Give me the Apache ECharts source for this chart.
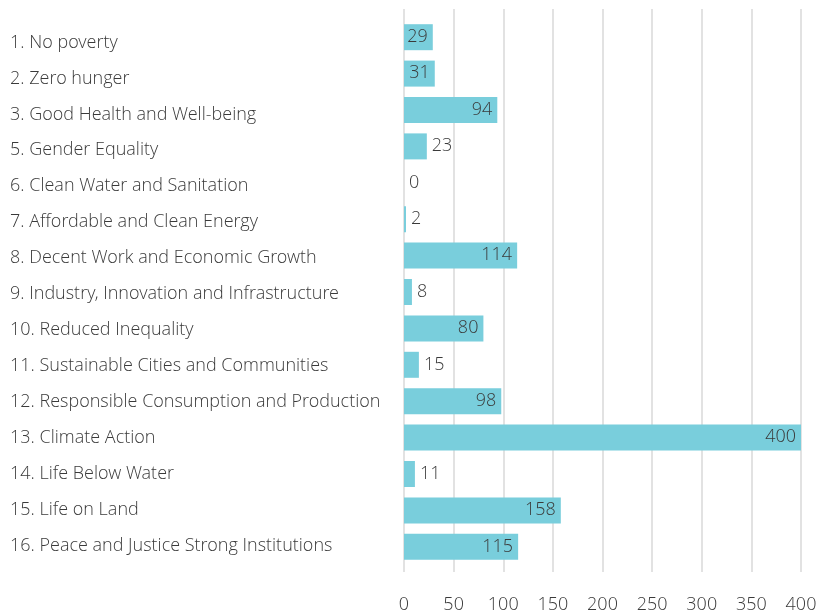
<!DOCTYPE html>
<html>
<head>
<meta charset="utf-8">
<script src="https://cdn.jsdelivr.net/npm/echarts@6/dist/echarts.min.js"></script>
<style>
  html, body { margin: 0; padding: 0; background: #fff; }
  #chart { width: 830px; height: 614px; }
</style>
</head>
<body>
<div id="chart"></div>
<script>
var goals = [
    '1. No poverty',
    '2. Zero hunger',
    '3. Good Health and Well-being',
    '5. Gender Equality',
    '6. Clean Water and Sanitation',
    '7. Affordable and Clean Energy',
    '8. Decent Work and Economic Growth',
    '9. Industry, Innovation and Infrastructure',
    '10. Reduced Inequality',
    '11. Sustainable Cities and Communities',
    '12. Responsible Consumption and Production',
    '13. Climate Action',
    '14. Life Below Water',
    '15. Life on Land',
    '16. Peace and Justice Strong Institutions'
];
var counts = [29, 31, 94, 23, 0, 2, 114, 8, 80, 15, 98, 400, 11, 158, 115];
var xTicks = { min: 0, max: 400, interval: 50 };

var font = "'Open Sans Light', 'Open Sans'";
var textColor = '#3a3a3a';
var gridColor = '#d9d9d9';

var myChart = echarts.init(document.getElementById('chart'));

var barData = counts.map(function (v) {
    return {
        value: v,
        label: { position: v >= 25 ? 'insideRight' : 'right' }
    };
});

myChart.setOption({
    animation: false,
    grid: [
        { left: 404, right: 29, top: 19, bottom: 49, containLabel: false },
        // the category names sit on a slightly tighter pitch than the bars
        { left: 404, right: 29, top: 25, bottom: 50, containLabel: false }
    ],
    xAxis: [{
        type: 'value',
        min: xTicks.min,
        max: xTicks.max,
        interval: xTicks.interval,
        axisLine: { show: false },
        axisTick: { show: true, length: 7, lineStyle: { color: gridColor, width: 1.5 } },
        splitLine: { show: true, lineStyle: { color: gridColor, width: 1.5 } },
        axisLabel: { margin: 31, color: textColor, fontFamily: font, fontWeight: 300, fontSize: 18 }
    }, {
        type: 'value',
        position: 'top',
        min: xTicks.min,
        max: xTicks.max,
        interval: xTicks.interval,
        axisLine: { show: false },
        axisTick: { show: true, length: 10, lineStyle: { color: gridColor, width: 1.5 } },
        splitLine: { show: false },
        axisLabel: { show: false }
    }, {
        type: 'value',
        gridIndex: 1,
        show: false,
        min: xTicks.min,
        max: xTicks.max
    }],
    yAxis: [{
        type: 'category',
        inverse: true,
        data: goals,
        axisLine: { show: false },
        axisTick: { show: false },
        axisLabel: { show: false }
    }, {
        type: 'category',
        gridIndex: 1,
        inverse: true,
        data: goals,
        axisLine: { show: false },
        axisTick: { show: false },
        splitLine: { show: false },
        axisLabel: {
            align: 'left',
            margin: 394,
            color: textColor,
            fontFamily: font,
            fontWeight: 300,
            fontSize: 18
        }
    }],
    series: [{
        type: 'bar',
        data: barData,
        barWidth: 26,
        itemStyle: { color: '#79cedc' },
        label: {
            show: true,
            distance: 5,
            color: textColor,
            fontFamily: font,
            fontWeight: 300,
            fontSize: 18
        }
    }]
});
</script>
</body>
</html>
